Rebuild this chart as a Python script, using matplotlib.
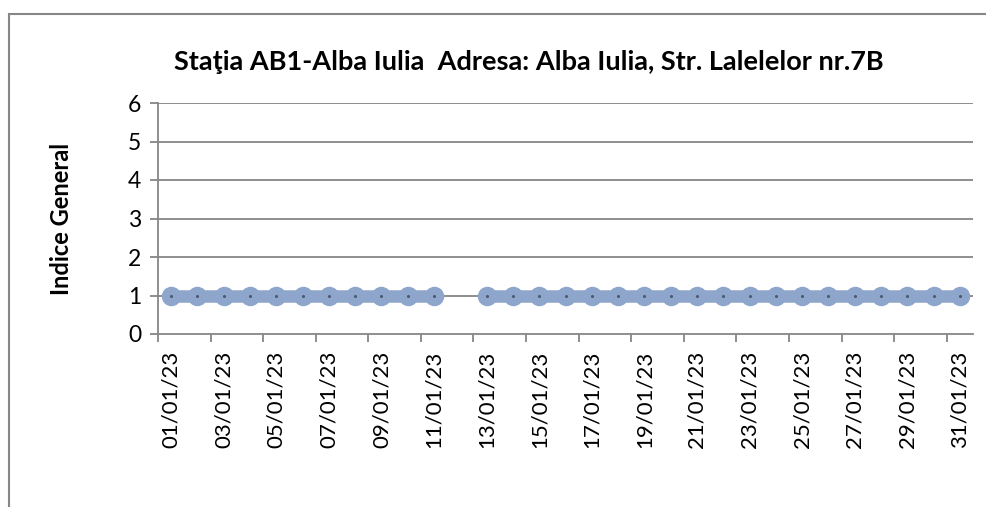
import matplotlib
matplotlib.use("Agg")
import matplotlib.pyplot as plt
import numpy as np
from matplotlib.patches import Rectangle

dates = ["%02d/01/23" % d for d in range(1, 32)]
values = [1, 1, 1, 1, 1, 1, 1, 1, 1, 1, 1, np.nan, 1, 1, 1, 1, 1, 1, 1, 1,
          1, 1, 1, 1, 1, 1, 1, 1, 1, 1, 1]
title = "Staţia AB1-Alba Iulia  Adresa: Alba Iulia, Str. Lalelelor nr.7B"
ylabel = "Indice General"

W, H = 987, 507
fig = plt.figure(figsize=(W / 100, H / 100), dpi=100)
plt.rcParams['font.family'] = ['Lato', 'DejaVu Sans']

L, R, T, B = 158, 973, 103, 334
ax = fig.add_axes([L / W, 1 - B / H, (R - L) / W, (B - T) / H])

x = np.arange(len(dates))
grid_c = "#868686"
for yv in range(1, 7):
    ax.axhline(yv, color=grid_c, lw=1.3, zorder=1)
ax.plot(x, values, color="#8EA5CC", lw=9, marker="o", ms=13,
        mec="#8EA5CC", mfc="#8EA5CC", solid_capstyle="round", zorder=3)
ax.plot(x, values, ls="none", marker="o", ms=1.2, color="#4a5a70", zorder=4)

ax.set_xlim(-0.5, len(dates) - 0.5)
ax.set_ylim(0, 6)
ax.set_yticks(range(0, 7))
ax.set_yticklabels([str(i) for i in range(0, 7)], fontsize=16.5)
ax.set_xticks(x[::2])
ax.set_xticklabels(dates[::2], rotation=90, fontsize=16)
ax.set_xticks(np.arange(-0.5, len(dates), 2), minor=True)
ax.tick_params(axis="x", which="major", length=0, pad=12)
ax.tick_params(axis="x", which="minor", length=6, width=1.3, color=grid_c, direction="out")
ax.tick_params(axis="y", length=6, width=1.3, color=grid_c, pad=6)

for s in ["top", "right"]:
    ax.spines[s].set_visible(False)
for s in ["left", "bottom"]:
    ax.spines[s].set_color(grid_c)
    ax.spines[s].set_linewidth(1.3)

fig.text(529 / W, 1 - 62 / H, title, ha="center", va="center",
         fontsize=19.5, fontweight="bold")
fig.text(62 / W, 1 - 219 / H, ylabel, ha="center", va="center",
         rotation=90, fontsize=17, fontweight="bold")

fig.patches.append(Rectangle((9 / W, -0.1), 1.2, 1 - 14 / H + 0.1,
                             transform=fig.transFigure, fill=False,
                             edgecolor="#868686", lw=1.5))

fig.savefig("out.png", dpi=100)
